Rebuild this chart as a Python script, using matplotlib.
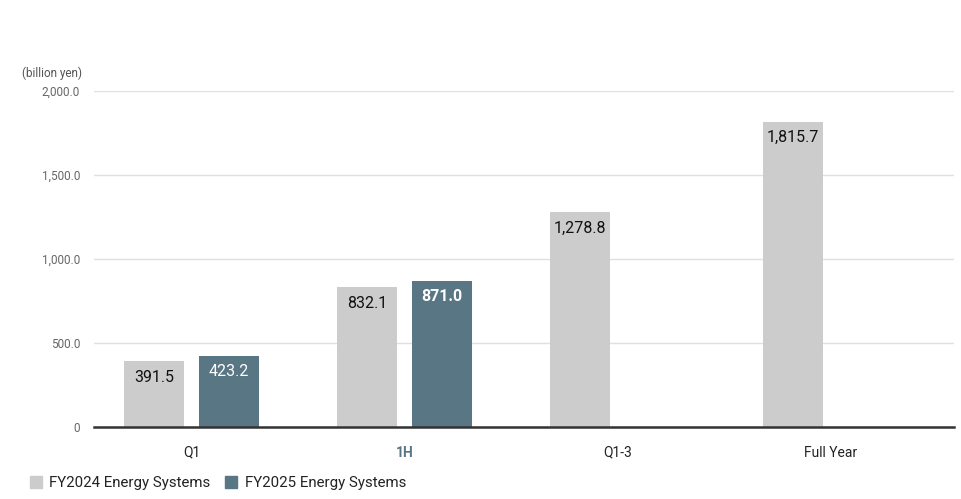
import numpy as np
import matplotlib.pyplot as plt
from matplotlib.patches import Patch

plt.rcParams['font.family'] = ['Roboto', 'DejaVu Sans']

categories = ['Q1', '1H', 'Q1-3', 'Full Year']
fy2024 = [391.5, 832.1, 1278.8, 1815.7]
fy2025 = [423.2, 871.0, None, None]
yticks = [0, 500, 1000, 1500, 2000]
ytick_labels = ['0', '500.0', '1,000.0', '1,500.0', '2,000.0']

c24 = '#cccccc'
c25 = '#587683'

fig = plt.figure(figsize=(9.62, 4.99), dpi=100)
ax = fig.add_axes([94 / 962, 1 - 427 / 499, 860 / 962, 336 / 499])

x = np.arange(len(categories))
w = 0.282
off = 0.176

for i, v in enumerate(fy2024):
    ax.bar(x[i] - off, v, width=w, color=c24, zorder=3)
    ax.annotate(f'{v:,.1f}', (x[i] - off, v), xytext=(0, -6), textcoords='offset points',
                ha='center', va='top', fontsize=11.5, color='#111111')

for i, v in enumerate(fy2025):
    if v is None:
        continue
    ax.bar(x[i] + off, v, width=w, color=c25, zorder=3)
    ax.annotate(f'{v:,.1f}', (x[i] + off, v), xytext=(0, -6), textcoords='offset points',
                ha='center', va='top', fontsize=11.5, color='white',
                fontweight='bold' if categories[i] == '1H' else 'normal')

ax.set_xlim((94 - 191.5) / 213, (954 - 191.5) / 213)
ax.set_ylim(0, 2000)
ax.set_yticks(yticks)
ax.set_yticklabels(ytick_labels)
ax.set_xticks(x)
ax.set_xticklabels(categories)

for s in ['top', 'right', 'left']:
    ax.spines[s].set_visible(False)
ax.spines['bottom'].set_color('#333333')
ax.spines['bottom'].set_linewidth(1.8)
ax.spines['bottom'].set_zorder(4)

ax.grid(axis='y', color='#e0e0e0', linewidth=1, zorder=0)
ax.tick_params(axis='y', length=0, pad=10, labelsize=8.5, labelcolor='#666666')
ax.tick_params(axis='x', length=0, pad=13.5, labelsize=10, labelcolor='#222222')

for lbl in ax.get_xticklabels():
    if lbl.get_text() == '1H':
        lbl.set_fontweight('bold')
        lbl.set_color(c25)

fig.text(22 / 962, 1 - 73 / 499, '(billion yen)', fontsize=8.5, color='#555555', va='center')

handles = [Patch(color=c24, label='FY2024 Energy Systems'),
           Patch(color=c25, label='FY2025 Energy Systems')]
fig.legend(handles=handles, loc='center left', bbox_to_anchor=(16 / 962, 1 - 483 / 499),
           ncol=2, frameon=False, fontsize=10.8, handlelength=0.8, handleheight=0.8,
           handletextpad=0.5, columnspacing=1.0, labelcolor='#222222')

fig.savefig('out.png', dpi=100)
